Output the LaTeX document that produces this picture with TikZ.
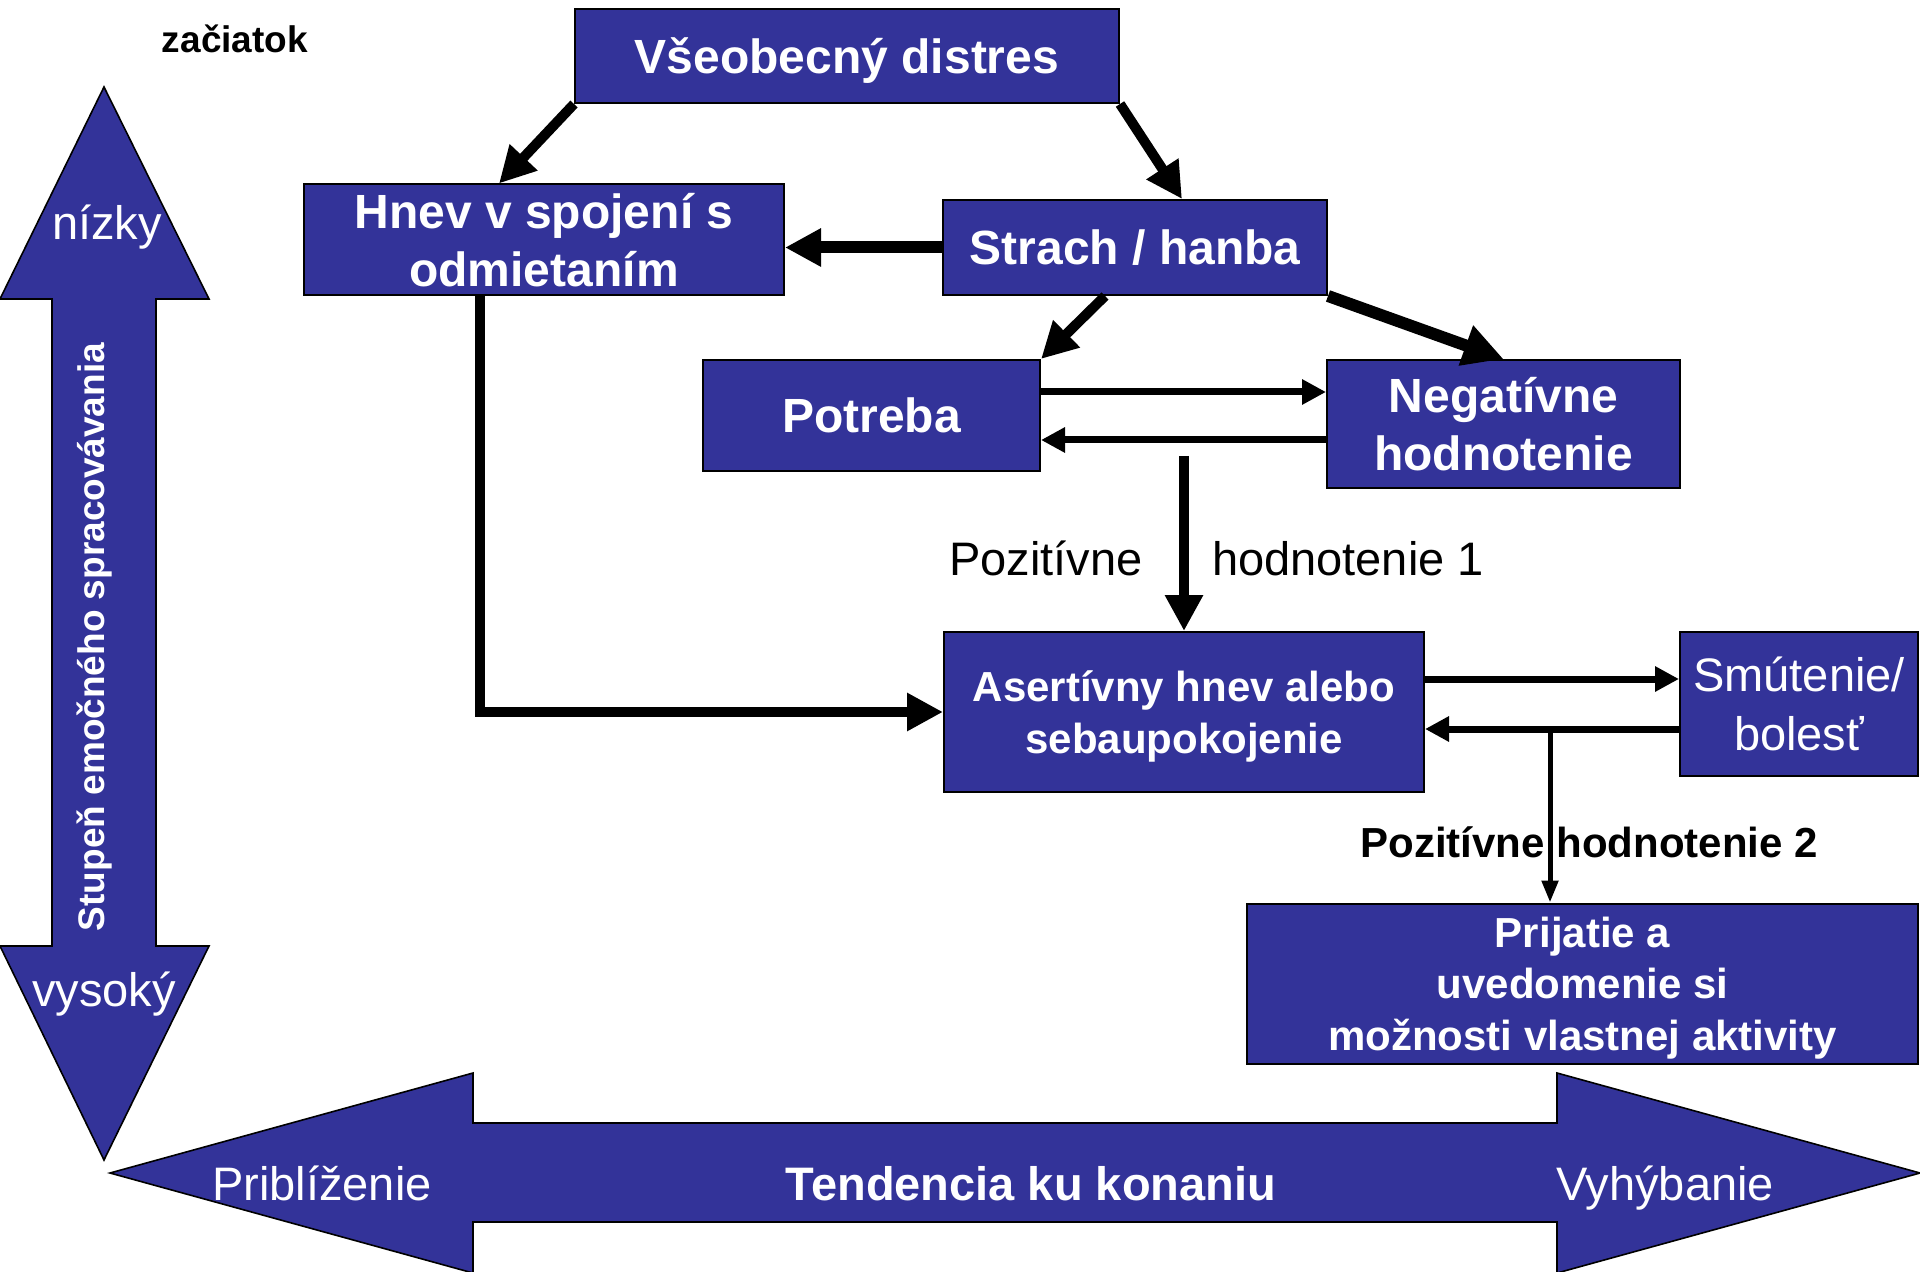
\documentclass[tikz,border=0pt]{standalone}
\usepackage{fontspec}
\setmainfont{Liberation Sans}
\usetikzlibrary{calc,arrows.meta,positioning}
\definecolor{boxblue}{RGB}{51,51,153}

\begin{document}
\begin{tikzpicture}[x=0.5pt,y=-0.5pt,
  box/.style={draw=black,line width=1pt,fill=boxblue,text=white,align=center,inner sep=0pt},
  boxbig/.style={font=\fontsize{24}{28.75}\selectfont\bfseries},
  boxmid/.style={font=\fontsize{21}{25.7}\selectfont\bfseries},
  lbltext/.style={font=\fontsize{23.5}{29.4}\selectfont},
  heavy/.style={line width=5pt,-{Triangle[length=18pt,width=18pt]}},
  medium/.style={line width=3.5pt,-{Triangle[length=12pt,width=12pt]}},
  slim/.style={line width=2.5pt,-{Triangle[length=11pt,width=8pt]}},
  band/.style={draw=black,line width=0.8pt,fill=boxblue}]
\useasboundingbox (0,0) rectangle (1920,1272);

\draw[band] (104,87) -- (209,299) -- (156,299) -- (156,946) -- (209,946) -- (104,1160)
  -- (0,946) -- (52,946) -- (52,299) -- (0,299) -- cycle;
\draw[band] (110,1173) -- (473,1073) -- (473,1123) -- (1557,1123) -- (1557,1073) -- (1920,1173)
  -- (1557,1273) -- (1557,1222) -- (473,1222) -- (473,1273) -- cycle;

\node[lbltext,text=white,anchor=base] (low) at (107,240) {nízky};
\node[lbltext,text=white,anchor=base] (high) at (104,1006) {vysoký};
\node[rotate=90,text=white,font=\fontsize{18.5}{22}\selectfont\bfseries] (degree) at (95,637) {Stupeň emočného spracovávania};
\node[lbltext,text=white,anchor=base] (approach) at (322,1200) {Priblíženie};
\node[lbltext,text=white,anchor=base,font=\fontsize{23.5}{29}\selectfont\bfseries] (tendency) at (1031,1200) {Tendencia ku konaniu};
\node[lbltext,text=white,anchor=base] (avoid) at (1665,1200) {Vyhýbanie};
\node[anchor=base,font=\fontsize{18.5}{22}\selectfont\bfseries] (start) at (235,53) {začiatok};

\node[box,boxbig,minimum width=272pt,minimum height=47pt,text depth=0pt] (distres) at (847,56) {Všeobecný distres};
\node[box,boxbig,minimum width=240pt,minimum height=55.5pt] (hnev) at (544,240) {Hnev v spojení s\\odmietaním};
\node[box,boxbig,minimum width=192pt,minimum height=47.5pt] (strach) at (1135,247.5) {Strach / hanba};
\node[box,boxbig,minimum width=168.5pt,minimum height=55.5pt] (potreba) at (871.5,415.5) {Potreba};
\node[box,boxbig,minimum width=176.5pt,minimum height=64pt] (negat) at (1503.5,424) {Negatívne\\hodnotenie};
\node[box,boxmid,minimum width=240pt,minimum height=80pt,text depth=-1.5pt] (asert) at (1184,712) {Asertívny hnev alebo\\sebaupokojenie};
\node[box,lbltext,minimum width=119pt,minimum height=72pt] (smut) at (1799,704) {Smútenie/\\bolesť};
\node[box,boxmid,minimum width=335.5pt,minimum height=80pt,text depth=-1.5pt] (prijatie) at (1582.5,983.5) {Prijatie a\\uvedomenie si\\možnosti vlastnej aktivity};

\node[lbltext,anchor=base] (pos1a) at (1046,575) {Pozitívne};
\node[lbltext,anchor=base] (pos1b) at (1348,575) {hodnotenie 1};
\node[boxmid,anchor=base] (pos2) at (1589,857) {Pozitívne hodnotenie 2};

\draw[heavy] (distres.south west) -- ($(hnev.north)+(-45,0)$);
\draw[heavy] (distres.south east) -- ($(strach.north)+(47,0)$);
\draw[heavy,line width=6pt] (strach.west) -- (strach.west -| hnev.east);
\draw[heavy] ($(strach.south)+(-30,0)$) -- (potreba.north east);
\draw[heavy,line width=6pt,-{Triangle[length=20pt,width=20pt]}] (strach.south east) -- (negat.north);
\draw[medium] ($(potreba.east)+(0,-23.5)$) -- ($(negat.west)+(0,-32)$);
\draw[medium] ($(negat.west)+(0,16)$) -- ($(potreba.east)+(0,24.5)$);
\coordinate (p1) at (1184,456);
\draw[heavy] (p1) -- (p1 |- asert.north);
\draw[heavy] ($(hnev.south)+(-64,0)$) |- (asert.west);
\draw[medium] ($(asert.east)+(0,-33)$) -- ($(smut.west)+(0,-25)$);
\draw[medium] ($(smut.west)+(0,25)$) -- ($(asert.east)+(0,17)$);
\coordinate (split) at ($(smut.west)+(-129,25)$);
\draw[slim] (split) -- (split |- prijatie.north);
\end{tikzpicture}
\end{document}
